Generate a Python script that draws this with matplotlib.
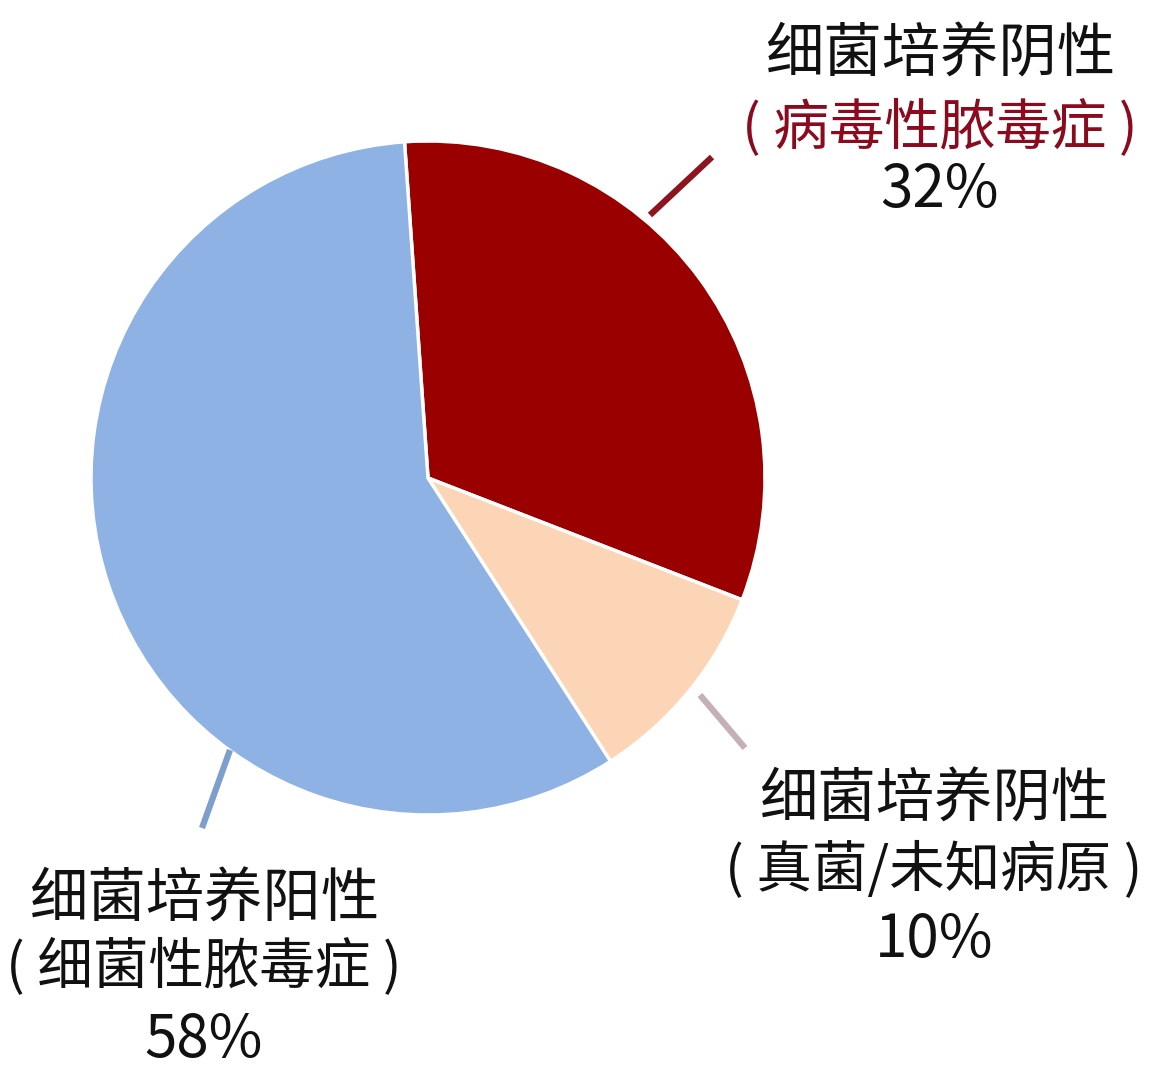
import matplotlib.pyplot as plt

plt.rcParams['font.family'] = ['Noto Sans CJK SC', 'DejaVu Sans']

# slice data, drawn clockwise from the top
shares = [32, 10, 58]
titles = ['细菌培养阴性', '细菌培养阴性', '细菌培养阳性']
subtitles = ['( 病毒性脓毒症 )', '( 真菌/未知病原 )', '( 细菌性脓毒症 )']
pct_labels = ['32%', '10%', '58%']
colors = ['#9a0000', '#fbd5b6', '#8db2e3']
sub_colors = ['#8c0a1e', '#111111', '#111111']
line_colors = ['#8e1420', '#c4b0b6', '#7e9ecb']

W, H = 1162, 1076
fig = plt.figure(figsize=(W / 100, H / 100), dpi=100)
ax = fig.add_axes([0, 0, 1, 1])

def py(y):
    # pixel row -> data y (y axis points up)
    return H - y

ax.pie(shares, colors=colors, startangle=94, counterclock=False,
       center=(428, py(478)), radius=337,
       wedgeprops=dict(edgecolor='white', linewidth=2.5))

# leader lines (pixel positions of both ends)
leaders = [((650, 215), (712, 157)),
           ((700, 695), (745, 748)),
           ((230, 750), (202, 828))]
for (p0, p1), c in zip(leaders, line_colors):
    ax.plot([p0[0], p1[0]], [py(p0[1]), py(p1[1])], color=c, lw=4.5,
            solid_capstyle='butt')

# label blocks: x centre, y of first line
label_pos = [(940, 55), (934, 800), (204, 900)]
gaps = [(73, 135), (70, 140), (68, 140)]
for i, (x, y) in enumerate(label_pos):
    ax.text(x, py(y), titles[i], ha='center', va='center', fontsize=42,
            color='#111111')
    ax.text(x, py(y + gaps[i][0]), subtitles[i], ha='center', va='center',
            fontsize=40, color=sub_colors[i])
    ax.text(x, py(y + gaps[i][1]), pct_labels[i], ha='center', va='center',
            fontsize=42, color='#111111')

ax.set_xlim(0, W)
ax.set_ylim(0, H)
ax.set_aspect('equal')
ax.axis('off')

plt.savefig('out.png', dpi=100, facecolor='white')
